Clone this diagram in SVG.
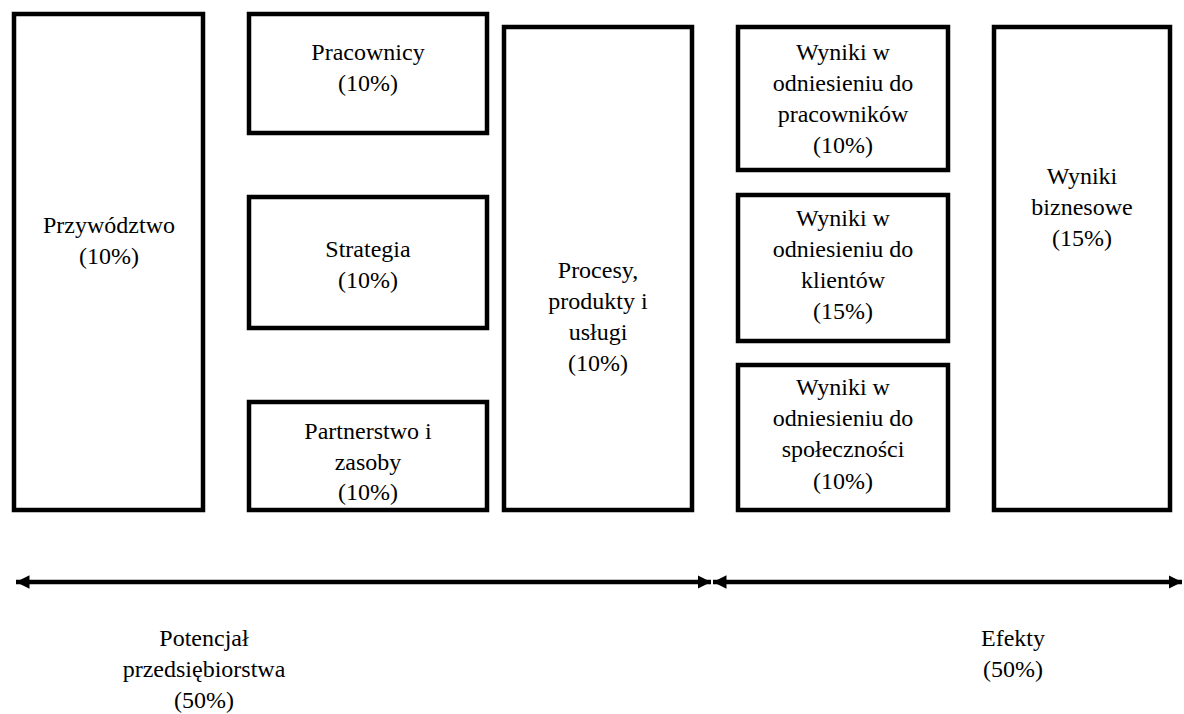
<svg xmlns="http://www.w3.org/2000/svg" width="1184" height="714" viewBox="0 0 1184 714">
<style>
.box{fill:#fff;stroke:#000;stroke-width:4.5}
text{font-family:"Liberation Serif","Times New Roman",serif;font-size:24px;fill:#000;text-anchor:middle}
.ln{stroke:#000;stroke-width:4.5;fill:none}
</style>
<defs>
<marker id="ah" viewBox="0 0 10 10" refX="10" refY="5" markerWidth="3" markerHeight="3.2" orient="auto-start-reverse" markerUnits="strokeWidth">
<path d="M0,0 L10,5 L0,10 z" fill="#000"/>
</marker>
</defs>
<g id="przywodztwo"><rect class="box" x="14" y="14" width="189" height="496"/>
<text x="109" y="233">Przywództwo</text><text x="109" y="264">(10%)</text></g>
<g id="pracownicy"><rect class="box" x="249" y="14" width="238" height="119"/>
<text x="368" y="60">Pracownicy</text><text x="368" y="91">(10%)</text></g>
<g id="strategia"><rect class="box" x="249" y="197" width="238" height="131"/>
<text x="368" y="257">Strategia</text><text x="368" y="288">(10%)</text></g>
<g id="partnerstwo"><rect class="box" x="249" y="402" width="238" height="108"/>
<text x="368" y="439">Partnerstwo i</text><text x="368" y="470">zasoby</text><text x="368" y="500">(10%)</text></g>
<g id="procesy"><rect class="box" x="504" y="27" width="188" height="483"/>
<text x="598" y="278">Procesy,</text><text x="598" y="309">produkty i</text><text x="598" y="340">usługi</text><text x="598" y="371">(10%)</text></g>
<g id="wyniki-pracownicy"><rect class="box" x="738" y="27" width="210" height="143"/>
<text x="843" y="60">Wyniki w</text><text x="843" y="91">odniesieniu do</text><text x="843" y="122">pracowników</text><text x="843" y="153">(10%)</text></g>
<g id="wyniki-klienci"><rect class="box" x="738" y="195" width="210" height="146"/>
<text x="843" y="226">Wyniki w</text><text x="843" y="257">odniesieniu do</text><text x="843" y="288">klientów</text><text x="843" y="319">(15%)</text></g>
<g id="wyniki-spolecznosc"><rect class="box" x="738" y="365" width="210" height="145"/>
<text x="843" y="395">Wyniki w</text><text x="843" y="426">odniesieniu do</text><text x="843" y="457">społeczności</text><text x="843" y="489">(10%)</text></g>
<g id="wyniki-biznesowe"><rect class="box" x="994" y="27" width="176" height="483"/>
<text x="1082" y="184">Wyniki</text><text x="1082" y="215">biznesowe</text><text x="1082" y="246">(15%)</text></g>
<g id="connectors">
<line class="ln" x1="16" y1="582" x2="711" y2="582" marker-start="url(#ah)" marker-end="url(#ah)"/>
<line class="ln" x1="713" y1="582" x2="1182" y2="582" marker-start="url(#ah)" marker-end="url(#ah)"/>
</g>
<g id="potencjal"><text x="204" y="646">Potencjał</text><text x="204" y="677">przedsiębiorstwa</text><text x="204" y="708">(50%)</text></g>
<g id="efekty"><text x="1013" y="646">Efekty</text><text x="1013" y="677">(50%)</text></g>
</svg>
